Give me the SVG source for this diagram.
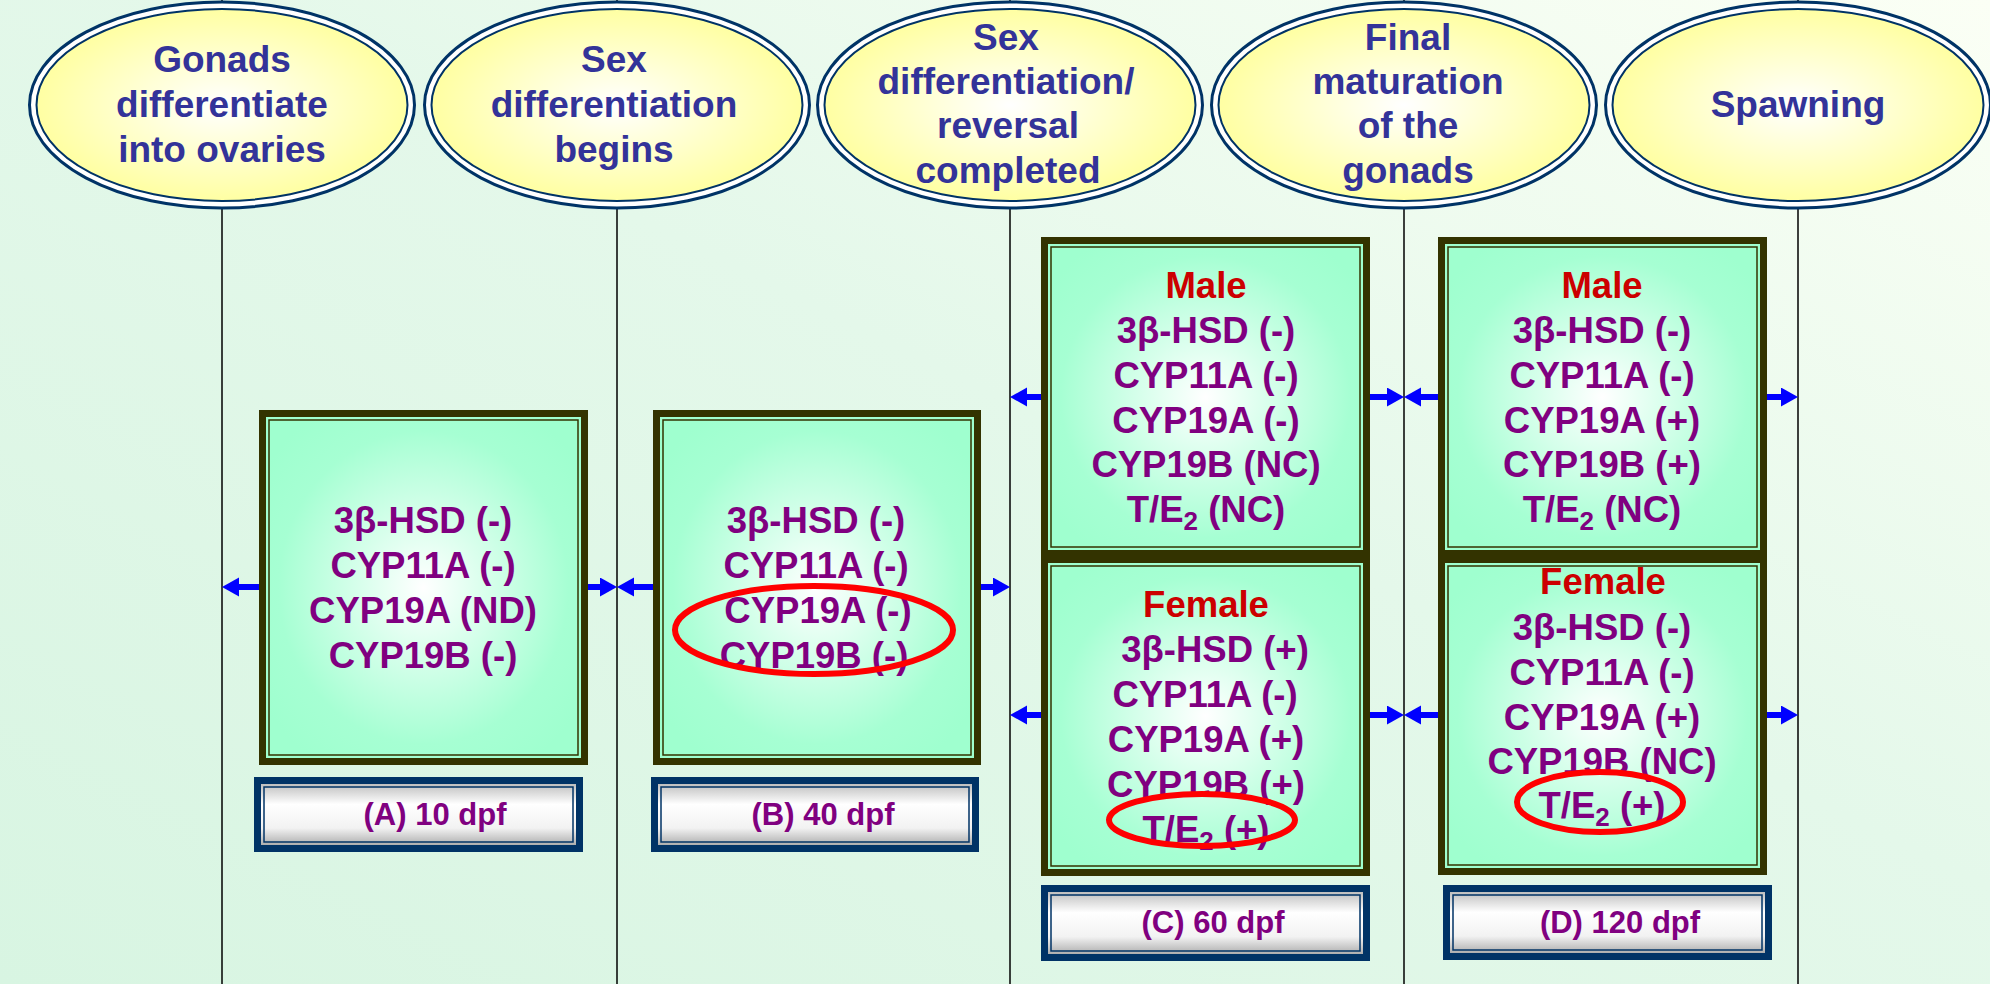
<svg xmlns="http://www.w3.org/2000/svg" width="1990" height="984" viewBox="0 0 1990 984">
<defs>
<linearGradient id="bg" x1="0" y1="1" x2="1" y2="0">
<stop offset="0" stop-color="#D8F5E2"/>
<stop offset="0.55" stop-color="#E4F8EA"/>
<stop offset="1" stop-color="#FBFFF5"/>
</linearGradient>
<radialGradient id="ellgrad" cx="0.5" cy="0.5" r="0.55">
<stop offset="0" stop-color="#FFFFFF"/>
<stop offset="1" stop-color="#FFFF99"/>
</radialGradient>
<radialGradient id="boxgrad" cx="0.5" cy="0.5" r="0.6">
<stop offset="0" stop-color="#FFFFFF"/>
<stop offset="0.75" stop-color="#A6FFD3"/>
<stop offset="1" stop-color="#9FFFCF"/>
</radialGradient>
<linearGradient id="lblgrad" x1="0" y1="0" x2="0" y2="1">
<stop offset="0" stop-color="#B4B4B4"/>
<stop offset="0.35" stop-color="#FFFFFF"/>
<stop offset="0.7" stop-color="#F2F2F2"/>
<stop offset="1" stop-color="#A0A0A0"/>
</linearGradient>
<marker id="ah" markerUnits="userSpaceOnUse" markerWidth="18" markerHeight="20" refX="0" refY="9.5" orient="auto">
<path d="M0,0 L17,9.5 L0,19 z" fill="#0000FF"/>
</marker>
<style>
.vline{stroke:#000;stroke-width:1.5;fill:none}
.eo{fill:#FFFFFF;stroke:#003366;stroke-width:3}
.ei{fill:url(#ellgrad);stroke:#003366;stroke-width:2}
.et{font-family:"Liberation Sans",Arial,sans-serif;font-weight:bold;font-size:37px;fill:#333399;text-anchor:middle}
.bo{fill:url(#boxgrad);stroke:#333300;stroke-width:7}
.bi{fill:none;stroke:#333300;stroke-width:1.5}
.bt{font-family:"Liberation Sans",Arial,sans-serif;font-weight:bold;font-size:36.5px;fill:#800080;text-anchor:middle}
.sx{fill:#CC0000}
.sub{font-size:26px}
.lo{fill:url(#lblgrad);stroke:#003366;stroke-width:7}
.li{fill:none;stroke:#003366;stroke-width:1.5}
.lt{font-family:"Liberation Sans",Arial,sans-serif;font-weight:bold;font-size:31px;fill:#800080;text-anchor:middle}
.red{fill:none;stroke:#FF0000;stroke-width:6}
.arr{stroke:#0000FF;stroke-width:6;fill:none;marker-end:url(#ah)}
</style>
</defs>
<rect x="0" y="0" width="1990" height="984" fill="url(#bg)"/>

<g id="timeline">
<line class="vline" x1="222" y1="0" x2="222" y2="984"/>
<line class="vline" x1="617" y1="0" x2="617" y2="984"/>
<line class="vline" x1="1010" y1="0" x2="1010" y2="984"/>
<line class="vline" x1="1404" y1="0" x2="1404" y2="984"/>
<line class="vline" x1="1798" y1="0" x2="1798" y2="984"/>
</g>

<g id="stage1">
<ellipse class="eo" cx="222" cy="105" rx="192.5" ry="103"/>
<ellipse class="ei" cx="222" cy="105" rx="185.5" ry="96"/>
<text class="et" x="222" y="72">Gonads</text>
<text class="et" x="222" y="117">differentiate</text>
<text class="et" x="222" y="162">into ovaries</text>
</g>
<g id="stage2">
<ellipse class="eo" cx="617" cy="105" rx="192.5" ry="103"/>
<ellipse class="ei" cx="617" cy="105" rx="185.5" ry="96"/>
<text class="et" x="614" y="72">Sex</text>
<text class="et" x="614" y="117">differentiation</text>
<text class="et" x="614" y="162">begins</text>
</g>
<g id="stage3">
<ellipse class="eo" cx="1010" cy="105" rx="192.5" ry="103"/>
<ellipse class="ei" cx="1010" cy="105" rx="185.5" ry="96"/>
<text class="et" x="1006" y="50">Sex</text>
<text class="et" x="1006" y="94">differentiation/</text>
<text class="et" x="1008" y="138">reversal</text>
<text class="et" x="1008" y="183">completed</text>
</g>
<g id="stage4">
<ellipse class="eo" cx="1404" cy="105" rx="192.5" ry="103"/>
<ellipse class="ei" cx="1404" cy="105" rx="185.5" ry="96"/>
<text class="et" x="1408" y="50">Final</text>
<text class="et" x="1408" y="94">maturation</text>
<text class="et" x="1408" y="138">of the</text>
<text class="et" x="1408" y="183">gonads</text>
</g>
<g id="stage5">
<ellipse class="eo" cx="1798" cy="105" rx="192.5" ry="103"/>
<ellipse class="ei" cx="1798" cy="105" rx="185.5" ry="96"/>
<text class="et" x="1798" y="117">Spawning</text>
</g>

<g id="boxA">
<rect class="bo" x="262.5" y="413.5" width="322" height="348"/>
<rect class="bi" x="269" y="420" width="309" height="335"/>
<text class="bt" x="423" y="533">3β-HSD (-)</text>
<text class="bt" x="423" y="578">CYP11A (-)</text>
<text class="bt" x="423" y="623">CYP19A (ND)</text>
<text class="bt" x="423" y="668">CYP19B (-)</text>
</g>
<g id="labelA">
<rect class="lo" x="257.5" y="780.5" width="322" height="68"/>
<rect class="li" x="264" y="787" width="309" height="55"/>
<text class="lt" x="435" y="825">(A) 10 dpf</text>
</g>

<g id="boxB">
<rect class="bo" x="656.5" y="413.5" width="321" height="348"/>
<rect class="bi" x="663" y="420" width="308" height="335"/>
<text class="bt" x="816" y="533">3β-HSD (-)</text>
<text class="bt" x="816" y="578">CYP11A (-)</text>
<text class="bt" x="818" y="623">CYP19A (-)</text>
<text class="bt" x="814" y="668">CYP19B (-)</text>
<ellipse class="red" cx="814" cy="630" rx="139" ry="44"/>
</g>
<g id="labelB">
<rect class="lo" x="654.5" y="780.5" width="321" height="68"/>
<rect class="li" x="661" y="787" width="308" height="55"/>
<text class="lt" x="823" y="825">(B) 40 dpf</text>
</g>

<g id="boxC-male">
<rect class="bo" x="1044.5" y="240.5" width="322" height="313"/>
<rect class="bi" x="1051" y="247" width="309" height="300"/>
<text class="bt sx" x="1206" y="298">Male</text>
<text class="bt" x="1206" y="343">3β-HSD (-)</text>
<text class="bt" x="1206" y="388">CYP11A (-)</text>
<text class="bt" x="1206" y="433">CYP19A (-)</text>
<text class="bt" x="1206" y="477">CYP19B (NC)</text>
<text class="bt" x="1206" y="522">T/E<tspan class="sub" dy="8">2</tspan><tspan dy="-8"> (NC)</tspan></text>
</g>
<g id="boxC-female">
<rect class="bo" x="1044.5" y="559.5" width="322" height="313"/>
<rect class="bi" x="1051" y="566" width="309" height="300"/>
<text class="bt sx" x="1206" y="617">Female</text>
<text class="bt" x="1215" y="662">3β-HSD (+)</text>
<text class="bt" x="1205" y="707">CYP11A (-)</text>
<text class="bt" x="1206" y="752">CYP19A (+)</text>
<text class="bt" x="1206" y="797">CYP19B (+)</text>
<text class="bt" x="1206" y="842">T/E<tspan class="sub" dy="8">2</tspan><tspan dy="-8"> (+)</tspan></text>
<ellipse class="red" cx="1202" cy="820" rx="93" ry="26"/>
</g>
<g id="labelC">
<rect class="lo" x="1044.5" y="888.5" width="322" height="69"/>
<rect class="li" x="1051" y="895" width="309" height="56"/>
<text class="lt" x="1213" y="933">(C) 60 dpf</text>
</g>

<g id="boxD-male">
<rect class="bo" x="1441.5" y="240.5" width="322" height="313"/>
<rect class="bi" x="1448" y="247" width="309" height="300"/>
<text class="bt sx" x="1602" y="298">Male</text>
<text class="bt" x="1602" y="343">3β-HSD (-)</text>
<text class="bt" x="1602" y="388">CYP11A (-)</text>
<text class="bt" x="1602" y="433">CYP19A (+)</text>
<text class="bt" x="1602" y="477">CYP19B (+)</text>
<text class="bt" x="1602" y="522">T/E<tspan class="sub" dy="8">2</tspan><tspan dy="-8"> (NC)</tspan></text>
</g>
<g id="boxD-female">
<rect class="bo" x="1441.5" y="559.5" width="322" height="312"/>
<rect class="bi" x="1448" y="566" width="309" height="299"/>
<text class="bt sx" x="1603" y="594">Female</text>
<text class="bt" x="1602" y="640">3β-HSD (-)</text>
<text class="bt" x="1602" y="685">CYP11A (-)</text>
<text class="bt" x="1602" y="730">CYP19A (+)</text>
<text class="bt" x="1602" y="774">CYP19B (NC)</text>
<text class="bt" x="1602" y="818">T/E<tspan class="sub" dy="8">2</tspan><tspan dy="-8"> (+)</tspan></text>
<ellipse class="red" cx="1600" cy="802" rx="83" ry="30"/>
</g>
<g id="labelD">
<rect class="lo" x="1446.5" y="888.5" width="322" height="68"/>
<rect class="li" x="1453" y="895" width="309" height="55"/>
<text class="lt" x="1620" y="933">(D) 120 dpf</text>
</g>

<g id="connectors">
<path class="arr" d="M259,587 H239"/>
<path class="arr" d="M588,587 H600"/>
<path class="arr" d="M653,587 H634"/>
<path class="arr" d="M981,587 H993"/>
<path class="arr" d="M1041,397 H1027"/>
<path class="arr" d="M1370,397 H1387"/>
<path class="arr" d="M1041,715 H1027"/>
<path class="arr" d="M1370,715 H1387"/>
<path class="arr" d="M1438,397 H1421"/>
<path class="arr" d="M1767,397 H1781"/>
<path class="arr" d="M1438,715 H1421"/>
<path class="arr" d="M1767,715 H1781"/>
</g>
</svg>
